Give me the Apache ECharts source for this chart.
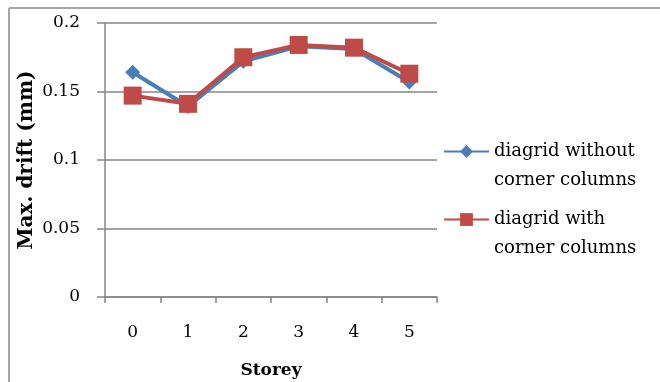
<!DOCTYPE html>
<html>
<head>
<meta charset="utf-8">
<script src="https://cdn.jsdelivr.net/npm/echarts@6/dist/echarts.min.js"></script>
<style>
html,body{margin:0;padding:0;background:#fff;}
#chart{width:660px;height:382px;}
</style>
</head>
<body>
<div id="chart"></div>
<script>
// Storey numbers along the x axis
var storeys = ['0', '1', '2', '3', '4', '5'];
// Maximum drift (mm) per storey
var withoutCorner = [0.164, 0.139, 0.172, 0.183, 0.181, 0.157];
var withCorner = [0.147, 0.141, 0.175, 0.184, 0.182, 0.163];
var seriesNames = ['diagrid without\ncorner columns', 'diagrid with\ncorner columns'];

var serif = 'DejaVu Serif, serif';
var axisGray = '#868686';

// One legend block per series; a leading empty line keeps the marker
// level with the first line of the two-line label
function legendBlock(name, top) {
  return {
    orient: 'vertical',
    left: 443,
    top: top,
    padding: 0,
    itemWidth: 45,
    itemHeight: 16,
    formatter: function (n) { return '\n' + n; },
    textStyle: {fontFamily: serif, fontSize: 18, color: '#000', lineHeight: 29},
    data: [name]
  };
}

var chart = echarts.init(document.getElementById('chart'));
chart.setOption({
  animation: false,
  backgroundColor: '#fff',
  grid: {left: 105, right: 223, top: 23, bottom: 85, outerBoundsMode: 'none'},
  graphic: [
    {type: 'line', shape: {x1: 9, y1: 8, x2: 660, y2: 8}, style: {stroke: '#a6a6a6', lineWidth: 2}},
    {type: 'line', shape: {x1: 9, y1: 8, x2: 9, y2: 382}, style: {stroke: '#a6a6a6', lineWidth: 2}}
  ],
  legend: [legendBlock(seriesNames[0], 108), legendBlock(seriesNames[1], 176)],
  xAxis: {
    type: 'category',
    data: storeys,
    boundaryGap: true,
    name: 'Storey',
    nameLocation: 'middle',
    nameGap: 65,
    nameMoveOverlap: false,
    nameTextStyle: {fontFamily: serif, fontSize: 17, fontWeight: 'bold', color: '#000'},
    axisLine: {lineStyle: {color: axisGray, width: 1.5}},
    axisTick: {show: true, length: 6, lineStyle: {color: axisGray, width: 1.5}},
    axisLabel: {fontFamily: serif, fontSize: 17, color: '#000', margin: 27}
  },
  yAxis: {
    type: 'value',
    min: 0,
    max: 0.2,
    interval: 0.05,
    name: 'Max. drift (mm)',
    nameLocation: 'middle',
    nameGap: 68,
    nameMoveOverlap: false,
    nameTextStyle: {fontFamily: serif, fontSize: 20, fontWeight: 'bold', color: '#000'},
    axisLine: {show: true, lineStyle: {color: axisGray, width: 1.5}},
    axisTick: {show: true, length: 8, lineStyle: {color: axisGray, width: 1.5}},
    splitLine: {lineStyle: {color: axisGray, width: 1.5}},
    axisLabel: {fontFamily: serif, fontSize: 17, color: '#000', margin: 25,
      formatter: function (v) { return String(Math.round(v * 100) / 100); }}
  },
  series: [
    {
      name: seriesNames[0],
      type: 'line',
      data: withoutCorner,
      symbol: 'diamond',
      symbolSize: [15, 15],
      lineStyle: {color: '#4a7ebb', width: 4},
      itemStyle: {color: '#4a7ebb'}
    },
    {
      name: seriesNames[1],
      type: 'line',
      data: withCorner,
      symbol: 'rect',
      symbolSize: 18,
      lineStyle: {color: '#be4b48', width: 4},
      itemStyle: {color: '#be4b48'}
    }
  ]
});
</script>
</body>
</html>
